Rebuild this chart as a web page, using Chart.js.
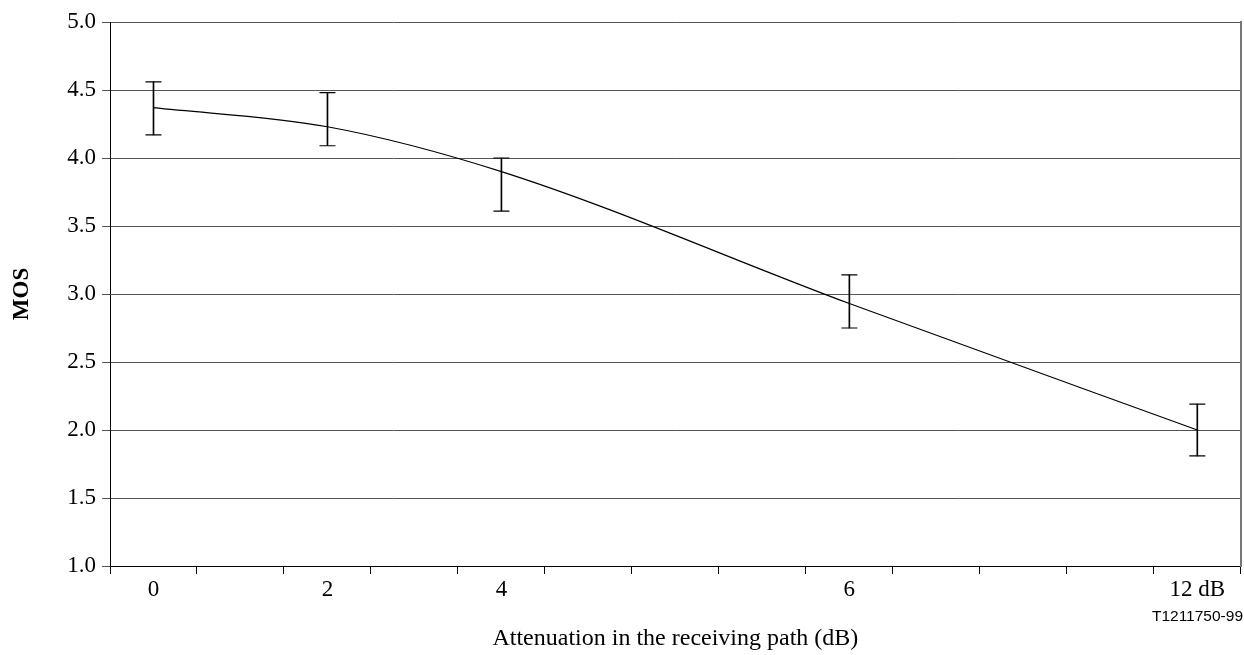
<!DOCTYPE html>
<html>
<head>
<meta charset="utf-8">
<script src="https://cdn.jsdelivr.net/npm/chart.js@4"></script>
<style>
html,body{margin:0;padding:0;background:#fff;overflow:hidden;}
#wrap{width:1244px;height:655px;position:relative;overflow:hidden;}
</style>
</head>
<body>
<div id="wrap"><canvas id="mosChart" width="1250" height="655"></canvas></div>
<script>
// x slots (13 of them, labels only on some)
const xLabels=["0","","2","","4","","","","6","","","","12 dB"];
const atten=["0","2","4","6","12 dB"];
const mos=[4.37,4.23,3.90,2.93,2.00];
const errLow=[4.17,4.09,3.61,2.75,1.81];
const errHigh=[4.56,4.48,4.00,3.14,2.19];
const yMin=1.0,yMax=5.0,yStep=0.5;

const serif="'Liberation Serif','Times New Roman',serif";

const pts=(vals)=>atten.map((a,i)=>({x:a,y:vals[i]}));

// figure code under the axis, bottom right
const codePlugin={
id:"code",
afterDraw(chart){
const ctx=chart.ctx;
ctx.save();
ctx.font="15.5px 'Liberation Sans',Arial,sans-serif";
ctx.fillStyle="#000";
ctx.textAlign="right";
ctx.textBaseline="middle";
ctx.fillText("T1211750-99",1243,617);
ctx.restore();
}
};

const mosChart=document.getElementById("mosChart");

new Chart(mosChart,{

data:{

labels:xLabels,

datasets:[{

type:"line",

data:pts(mos),

borderColor:"#000",

borderWidth:1.2,

pointRadius:0,

fill:false,

cubicInterpolationMode:"monotone"

},{

type:"bar",

data:atten.map((a,i)=>({x:a,y:[errLow[i],errHigh[i]]})),

backgroundColor:"#000",

barThickness:1,

borderWidth:0

},{

type:"line",

data:pts(errLow),

showLine:false,

pointStyle:"line",

pointRadius:8,

borderColor:"#000",

borderWidth:1.2

},{

type:"line",

data:pts(errHigh),

showLine:false,

pointStyle:"line",

pointRadius:8,

borderColor:"#000",

borderWidth:1.2

}]

},

options:{

responsive:false,

animation:false,

layout:{padding:{top:22,right:0,left:0,bottom:0}},

plugins:{

legend:{display:false},

tooltip:{enabled:false}

},

scales:{

x:{

type:"category",

offset:true,

grid:{offset:true,drawOnChartArea:false,drawTicks:true,tickLength:8,color:"#000"},

border:{color:"#000",width:1},

ticks:{autoSkip:false,maxRotation:0,color:"#000",padding:2,font:{family:serif,size:23}},

title:{display:true,text:"Attenuation in the receiving path (dB)",color:"#000",font:{family:serif,size:24},padding:{top:4,bottom:2}},

afterFit(s){s.height=89;s.paddingLeft=0;s.paddingRight=0;}

},

y:{

min:yMin,

max:yMax,

ticks:{stepSize:yStep,color:"#000",padding:6,font:{family:serif,size:23},callback:v=>v.toFixed(1)},

grid:{color:"#555",lineWidth:1,tickLength:8},

border:{color:"#000",width:1},

title:{display:true,text:"MOS",color:"#000",font:{family:serif,size:23,weight:"bold"},padding:{top:8,bottom:4}},

afterFit(s){s.width=110;}

},

y2:{

position:"right",

display:true,

grid:{drawOnChartArea:false,drawTicks:false},

ticks:{display:false},

border:{display:true,color:"#777",width:2},

afterFit(s){s.width=3;}

}

}

},

plugins:[codePlugin]

});
</script>
</body>
</html>
